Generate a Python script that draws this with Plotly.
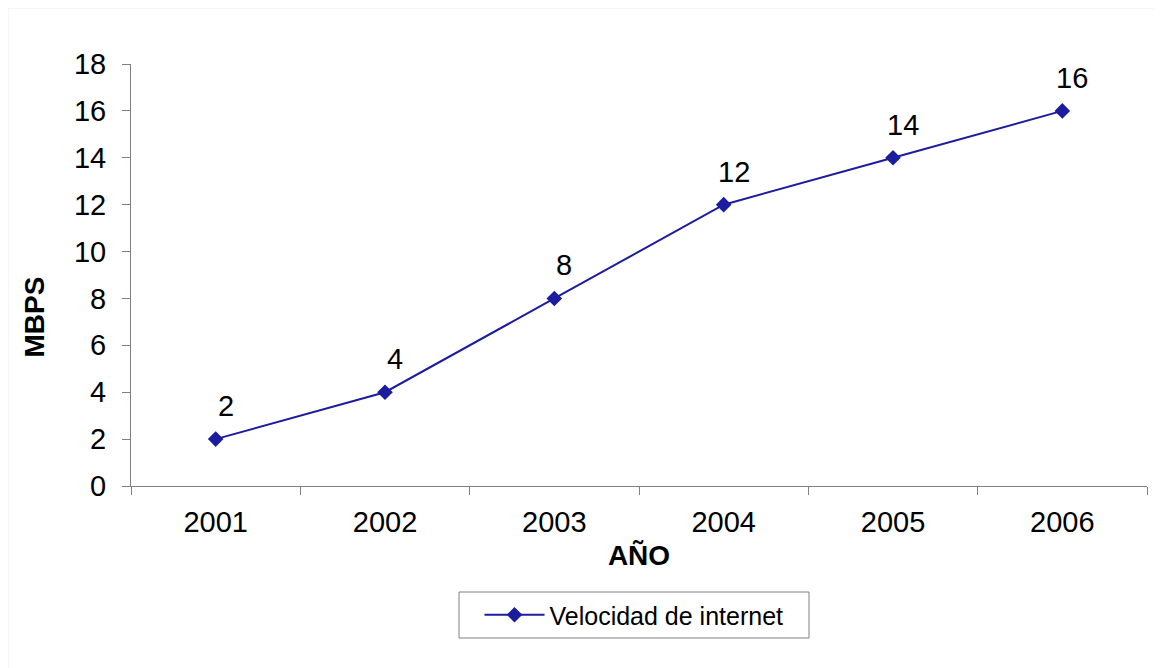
import plotly.graph_objects as go

years = ["2001", "2002", "2003", "2004", "2005", "2006"]
speed = [2, 4, 8, 12, 14, 16]
series_name = "Velocidad de internet"
y_ticks = [0, 2, 4, 6, 8, 10, 12, 14, 16, 18]

LINE = "#1c1c9e"
AXIS = "#808080"
FONT = "Liberation Sans, Arial, sans-serif"

L, R, T, B = 123, 23, 56, 190
PW, PH = 1162 - L - R, 668 - T - B


def px(x):
    return (x - L) / PW


def py(y):
    return (668 - B - y) / PH


fig = go.Figure()
fig.add_trace(go.Scatter(
    x=years, y=speed, name=series_name, mode="lines+markers",
    line=dict(color=LINE, width=2),
    marker=dict(symbol="diamond", size=12, color=LINE),
    showlegend=True,
))

for i, y in enumerate(speed):
    fig.add_annotation(x=i, y=y, text=str(y), showarrow=False, yshift=33, xshift=10,
                       font=dict(size=29, color="black", family=FONT))

fig.add_annotation(xref="paper", yref="paper", x=px(26), y=py(309.5),
                   text="<b>MBPS</b>", textangle=-90, showarrow=False,
                   xanchor="center", yanchor="middle",
                   font=dict(size=28, color="black", family=FONT))

fig.update_layout(
    width=1162, height=668,
    margin=dict(l=L, r=R, t=T, b=B),
    paper_bgcolor="white", plot_bgcolor="white",
    font=dict(family=FONT, color="black"),
    xaxis=dict(
        type="category", range=[-0.5, 5.5], tickson="boundaries",
        ticks="outside", ticklen=8, tickcolor=AXIS, tickwidth=1,
        showline=True, linecolor=AXIS, linewidth=1, showgrid=False,
        tickfont=dict(size=29), zeroline=False, ticklabelstandoff=10,
        title=dict(text="<b>AÑO</b>", font=dict(size=28), standoff=8),
    ),
    yaxis=dict(
        range=[0, 18], tickvals=y_ticks, ticks="outside", ticklen=8,
        tickcolor=AXIS, tickwidth=1, showline=True, linecolor=AXIS, linewidth=1,
        showgrid=False, zeroline=False, tickfont=dict(size=29),
        ticklabelstandoff=10,
    ),
    legend=dict(
        orientation="h", x=px(626), xanchor="center",
        y=py(584), yanchor="top",
        borderwidth=0, font=dict(size=25),
        bgcolor="rgba(0,0,0,0)", itemwidth=60,
    ),
    shapes=[
        dict(type="line", xref="paper", yref="paper", x0=px(0), x1=px(1162),
             y0=py(0), y1=py(0), line=dict(color="#eeeeee", width=1)),
        dict(type="line", xref="paper", yref="paper", x0=px(0), x1=px(0),
             y0=py(0), y1=py(668), line=dict(color="#eeeeee", width=1)),
        dict(type="rect", xref="paper", yref="paper", x0=px(451), x1=px(801),
             y0=py(584), y1=py(630), line=dict(color=AXIS, width=1),
             fillcolor="rgba(0,0,0,0)", layer="below"),
    ],
)

fig.write_html("out.html")
